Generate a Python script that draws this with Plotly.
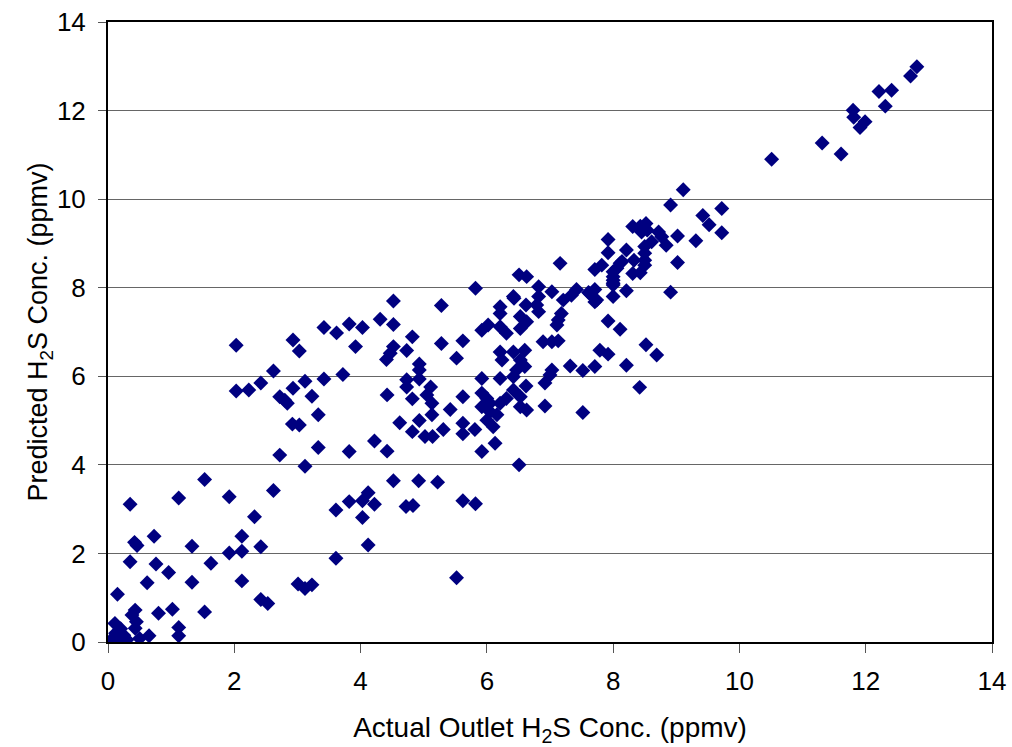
import plotly.graph_objects as go

actual = [
    0.05, 0.10, 0.20, 0.20, 0.11, 0.15, 0.43, 0.45, 0.38, 0.43, 0.50, 0.65, 0.80, 1.02, 1.12, 1.12, 1.53,
    0.12, 0.25, 0.30, 0.15,
    0.35, 0.42, 0.46, 0.35, 0.73, 0.76, 0.62, 0.96, 1.12, 1.53, 1.33, 1.33, 1.63, 1.92, 1.92, 2.12, 2.12, 2.12,
    2.32, 2.42, 2.62, 2.72, 3.12, 3.33, 3.61, 3.61, 2.42, 2.53, 3.01, 3.12, 3.23,
    2.03, 2.03, 2.23, 2.42, 2.62, 2.72, 2.80, 2.84, 2.93, 3.03, 2.93, 3.12, 3.23, 3.33, 2.92, 3.03,
    3.42, 3.62, 3.82, 4.03, 3.92, 3.42, 3.72, 3.82, 4.22, 4.42, 4.42, 4.31, 4.52, 4.52, 4.82, 4.73,
    4.52, 4.47, 4.41, 4.93, 4.93, 4.73, 4.73, 4.93, 4.82, 5.11, 5.05, 5.13, 5.13, 4.62, 4.93, 4.82,
    5.02, 5.14, 5.28, 5.28,
    4.52, 4.92, 5.22, 3.82, 4.03, 4.12, 4.22, 4.03, 4.72, 4.83, 5.62, 5.82, 4.12, 5.52,
    5.82, 5.62, 5.52, 5.92, 6.02, 6.21, 6.21, 6.43, 6.62, 6.82, 7.03, 6.82, 6.79, 6.82, 6.53, 6.63,
    6.53, 6.21, 6.31, 7.21, 7.34, 7.42, 7.18, 7.13, 7.11, 7.63, 7.74, 8.00, 8.00, 8.21, 7.92, 8.11,
    6.89, 7.03, 7.13, 7.79, 7.92, 8.52, 8.69, 7.32, 7.52, 7.71, 8.21, 7.03, 7.00, 6.92, 8.42, 7.52, 6.92,
    6.21, 6.42, 6.60, 6.24, 6.53, 6.60, 6.47, 6.42, 5.92, 6.21, 6.62, 6.42, 6.53, 6.31, 6.21, 6.53, 6.63,
    5.92, 6.00, 6.05, 5.92, 6.05, 6.16, 6.00, 6.10, 5.62, 5.42,
    5.62, 5.62, 5.31, 5.81, 6.13, 5.92, 6.51,
    9.11, 8.91, 9.72, 9.42, 9.52, 9.72, 9.02, 9.31, 9.02, 8.91,
    8.31, 8.43, 8.52, 8.54, 8.45, 8.72, 8.77, 8.84, 8.61, 8.50, 8.50, 8.50, 8.50,
    8.21, 8.33, 8.43, 8.31,
    7.92, 7.92, 8.14, 8.06, 8.00, 8.00, 8.00,
    7.71, 7.82, 7.71, 7.71, 7.16, 7.61,
    6.51, 6.63, 6.42, 8.11, 8.00,
    10.51, 11.31, 11.61, 11.80, 11.81, 11.99, 11.91, 12.21, 12.31, 12.41, 12.71, 12.81,
]

predicted = [
    0.05, 0.10, 0.05, 0.30, 0.42, 1.08, 0.31, 0.46, 0.61, 0.72, 0.08, 0.14, 0.65, 0.74, 0.33, 0.14, 0.68,
    0.20, 0.15, 0.05, 0.00,
    3.11, 2.25, 2.18, 1.81, 2.39, 1.76, 1.34, 1.57, 3.25, 3.67, 2.16, 1.35, 1.78, 3.28, 2.01, 2.39, 2.05, 1.38,
    2.83, 2.15, 3.42, 4.22, 3.97, 4.39, 2.98, 1.89, 0.96, 0.87, 1.31, 1.21, 1.29,
    6.70, 5.67, 5.69, 5.85, 6.12, 5.54, 5.46, 5.39, 6.82, 6.57, 5.73, 5.89, 5.55, 5.13, 4.92, 4.90,
    7.10, 6.98, 7.18, 7.10, 6.67, 5.94, 6.04, 4.30, 4.54, 4.31, 5.58, 7.29, 7.70, 7.17, 6.89, 6.58,
    6.67, 6.52, 6.38, 6.28, 6.14, 5.92, 5.76, 5.94, 5.49, 5.76, 5.58, 5.39, 5.13, 4.95, 5.00, 4.75,
    4.64, 4.64, 7.60, 6.74,
    3.64, 3.64, 3.61, 3.17, 3.19, 3.37, 3.11, 2.81, 3.06, 3.08, 3.19, 3.12, 2.19, 1.45,
    7.99, 6.80, 6.41, 7.04, 7.16, 7.57, 7.42, 7.76, 7.61, 8.02, 7.91, 7.80, 7.61, 7.46, 7.35, 7.23,
    7.08, 7.12, 6.97, 7.72, 7.83, 7.96, 7.42, 7.27, 7.16, 7.87, 7.72, 8.10, 7.80, 7.93, 7.25, 7.06,
    6.78, 6.78, 6.80, 6.59, 6.50, 6.71, 6.48, 6.23, 6.13, 6.22, 6.25, 6.14, 6.03, 5.85, 5.75, 5.18, 5.33,
    6.55, 6.55, 6.59, 6.37, 6.37, 6.22, 6.14, 5.99, 5.95, 5.95, 5.78, 5.69, 5.54, 5.50, 5.39, 5.31, 5.24,
    5.62, 5.50, 5.39, 5.31, 5.20, 5.13, 5.01, 4.86, 5.54, 5.25,
    4.94, 4.70, 4.80, 4.80, 4.49, 4.30, 4.00,
    10.21, 9.87, 9.79, 9.63, 9.42, 9.24, 9.17, 9.06, 8.57, 7.90,
    9.38, 9.39, 9.45, 9.30, 9.26, 9.26, 9.15, 8.96, 9.04, 8.93, 8.78, 8.62, 8.51,
    8.85, 8.62, 8.34, 8.32,
    9.09, 8.79, 8.59, 8.44, 8.36, 8.25, 8.06,
    8.41, 8.51, 7.96, 7.68, 8.55, 7.89,
    8.29, 8.25, 7.80, 8.55, 8.17,
    10.90, 11.27, 11.02, 12.01, 11.85, 11.75, 11.62, 12.43, 12.10, 12.46, 12.78, 12.99,
]

x_ticks = [0, 2, 4, 6, 8, 10, 12, 14]
y_ticks = [0, 2, 4, 6, 8, 10, 12, 14]

fig = go.Figure()
fig.add_trace(go.Scatter(
    x=actual, y=predicted, mode="markers",
    marker=dict(symbol="diamond", size=11.5, color="#000080", line=dict(width=0)),
    showlegend=False,
))

font = "Liberation Sans, Arial, sans-serif"
fig.update_layout(
    width=1012, height=747,
    margin=dict(l=108, r=20, t=22, b=105),
    paper_bgcolor="white", plot_bgcolor="white",
    font=dict(family=font, size=26, color="black"),
    xaxis=dict(
        range=[0, 14], tickvals=x_ticks, ticks="outside", ticklen=9, tickcolor="#555555", tickwidth=1,
        showgrid=False, zeroline=False, showline=True, linecolor="black", linewidth=2, mirror=True,
        tickfont=dict(size=26), ticklabelstandoff=6, automargin=False,
        title=dict(text="Actual Outlet H<sub>2</sub>S Conc. (ppmv)", font=dict(size=28), standoff=24),
    ),
    yaxis=dict(
        range=[0, 14], tickvals=y_ticks, ticks="outside", ticklen=8, tickcolor="#555555", tickwidth=1,
        showgrid=True, gridcolor="#666666", gridwidth=1, zeroline=False,
        showline=True, linecolor="black", linewidth=2, mirror=True,
        tickfont=dict(size=26), ticklabelstandoff=7, automargin=False,
        title=dict(text="Predicted H<sub>2</sub>S Conc. (ppmv)", font=dict(size=27), standoff=0),
    ),
)

fig.write_html("out.html")
